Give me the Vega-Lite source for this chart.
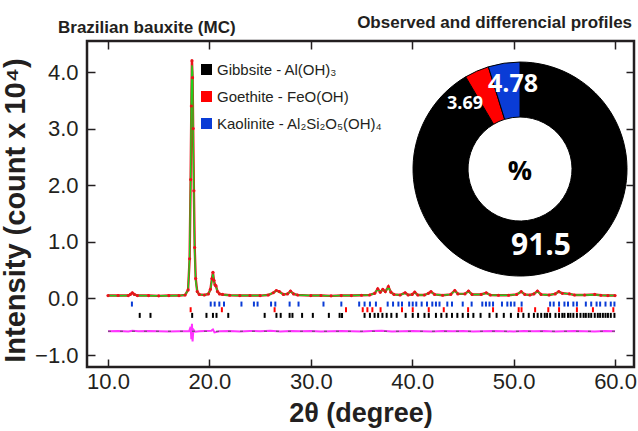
{
  "$schema": "https://vega.github.io/schema/vega-lite/v6.json",
  "width": 547,
  "height": 326,
  "autosize": {"type": "none"},
  "padding": {"left": 87, "top": 41, "right": 4, "bottom": 64},
  "background": "white",
  "config": {
    "view": {"stroke": "#231f20", "strokeWidth": 2.5},
    "axis": {"domain": false, "grid": false, "tickColor": "#231f20", "tickWidth": 1.5, "tickSize": 8, "offset": -8, "labelFont": "Liberation Sans", "labelFontSize": 22, "labelColor": "#231f20", "titleFont": "Liberation Sans", "titleFontWeight": "bold", "titleColor": "#231f20", "labelFlush": false, "labelOverlap": false}
  },
  "datasets": {
    "profile": [
      {"t": 10.0, "obs": 0.05, "calc": 0.05}, {"t": 11.0, "obs": 0.052, "calc": 0.048}, {"t": 12.0, "obs": 0.05, "calc": 0.05},
      {"t": 12.2, "obs": 0.07, "calc": 0.065}, {"t": 12.4, "obs": 0.1, "calc": 0.095}, {"t": 12.6, "obs": 0.07, "calc": 0.07},
      {"t": 12.9, "obs": 0.05, "calc": 0.05}, {"t": 14.0, "obs": 0.05, "calc": 0.048}, {"t": 15.0, "obs": 0.045, "calc": 0.046},
      {"t": 16.0, "obs": 0.05, "calc": 0.047}, {"t": 17.0, "obs": 0.05, "calc": 0.05}, {"t": 17.6, "obs": 0.06, "calc": 0.06},
      {"t": 17.9, "obs": 0.15, "calc": 0.15}, {"t": 18.05, "obs": 0.7, "calc": 0.75}, {"t": 18.15, "obs": 2.1, "calc": 2.2},
      {"t": 18.22, "obs": 3.4, "calc": 3.6}, {"t": 18.28, "obs": 4.2, "calc": 4.12}, {"t": 18.34, "obs": 3.9, "calc": 4.0},
      {"t": 18.4, "obs": 3.0, "calc": 2.9}, {"t": 18.47, "obs": 1.9, "calc": 1.8}, {"t": 18.55, "obs": 0.9, "calc": 0.8},
      {"t": 18.65, "obs": 0.35, "calc": 0.3}, {"t": 18.8, "obs": 0.12, "calc": 0.12}, {"t": 19.0, "obs": 0.07, "calc": 0.07},
      {"t": 19.5, "obs": 0.06, "calc": 0.06}, {"t": 19.9, "obs": 0.08, "calc": 0.08}, {"t": 20.1, "obs": 0.16, "calc": 0.15},
      {"t": 20.25, "obs": 0.35, "calc": 0.33}, {"t": 20.35, "obs": 0.46, "calc": 0.43}, {"t": 20.45, "obs": 0.32, "calc": 0.3},
      {"t": 20.55, "obs": 0.24, "calc": 0.22}, {"t": 20.65, "obs": 0.22, "calc": 0.21}, {"t": 20.8, "obs": 0.12, "calc": 0.12},
      {"t": 21.0, "obs": 0.08, "calc": 0.08}, {"t": 21.3, "obs": 0.07, "calc": 0.065}, {"t": 22.0, "obs": 0.055, "calc": 0.055},
      {"t": 23.0, "obs": 0.05, "calc": 0.05}, {"t": 24.0, "obs": 0.052, "calc": 0.05}, {"t": 25.0, "obs": 0.05, "calc": 0.05},
      {"t": 25.8, "obs": 0.06, "calc": 0.06}, {"t": 26.3, "obs": 0.1, "calc": 0.1}, {"t": 26.6, "obs": 0.14, "calc": 0.13},
      {"t": 26.9, "obs": 0.12, "calc": 0.11}, {"t": 27.3, "obs": 0.07, "calc": 0.07}, {"t": 27.7, "obs": 0.08, "calc": 0.08},
      {"t": 28.0, "obs": 0.13, "calc": 0.12}, {"t": 28.3, "obs": 0.08, "calc": 0.08}, {"t": 28.7, "obs": 0.06, "calc": 0.06},
      {"t": 30.0, "obs": 0.05, "calc": 0.05}, {"t": 31.0, "obs": 0.052, "calc": 0.05}, {"t": 32.0, "obs": 0.045, "calc": 0.045},
      {"t": 33.0, "obs": 0.05, "calc": 0.05}, {"t": 34.0, "obs": 0.05, "calc": 0.05}, {"t": 35.0, "obs": 0.055, "calc": 0.055},
      {"t": 35.8, "obs": 0.06, "calc": 0.06}, {"t": 36.3, "obs": 0.09, "calc": 0.09}, {"t": 36.6, "obs": 0.17, "calc": 0.16},
      {"t": 36.85, "obs": 0.11, "calc": 0.12}, {"t": 37.1, "obs": 0.16, "calc": 0.15}, {"t": 37.35, "obs": 0.12, "calc": 0.11},
      {"t": 37.65, "obs": 0.21, "calc": 0.2}, {"t": 37.9, "obs": 0.11, "calc": 0.11}, {"t": 38.2, "obs": 0.07, "calc": 0.07},
      {"t": 38.8, "obs": 0.06, "calc": 0.06}, {"t": 39.3, "obs": 0.1, "calc": 0.09}, {"t": 39.6, "obs": 0.06, "calc": 0.06},
      {"t": 40.0, "obs": 0.07, "calc": 0.07}, {"t": 40.25, "obs": 0.11, "calc": 0.1}, {"t": 40.55, "obs": 0.06, "calc": 0.06},
      {"t": 41.2, "obs": 0.06, "calc": 0.06}, {"t": 41.6, "obs": 0.09, "calc": 0.09}, {"t": 41.85, "obs": 0.12, "calc": 0.11},
      {"t": 42.2, "obs": 0.07, "calc": 0.07}, {"t": 43.0, "obs": 0.055, "calc": 0.055}, {"t": 43.8, "obs": 0.07, "calc": 0.07},
      {"t": 44.2, "obs": 0.14, "calc": 0.13}, {"t": 44.5, "obs": 0.08, "calc": 0.08}, {"t": 45.2, "obs": 0.08, "calc": 0.08},
      {"t": 45.55, "obs": 0.13, "calc": 0.12}, {"t": 45.9, "obs": 0.07, "calc": 0.07}, {"t": 46.8, "obs": 0.07, "calc": 0.07},
      {"t": 47.3, "obs": 0.1, "calc": 0.09}, {"t": 47.7, "obs": 0.06, "calc": 0.06}, {"t": 48.5, "obs": 0.055, "calc": 0.055},
      {"t": 49.5, "obs": 0.055, "calc": 0.055}, {"t": 50.3, "obs": 0.07, "calc": 0.07}, {"t": 50.75, "obs": 0.12, "calc": 0.12},
      {"t": 51.1, "obs": 0.07, "calc": 0.07}, {"t": 51.6, "obs": 0.06, "calc": 0.06}, {"t": 52.0, "obs": 0.08, "calc": 0.08},
      {"t": 52.35, "obs": 0.13, "calc": 0.12}, {"t": 52.7, "obs": 0.07, "calc": 0.07}, {"t": 53.5, "obs": 0.06, "calc": 0.06},
      {"t": 54.1, "obs": 0.08, "calc": 0.08}, {"t": 54.45, "obs": 0.12, "calc": 0.11}, {"t": 54.8, "obs": 0.09, "calc": 0.09},
      {"t": 55.5, "obs": 0.08, "calc": 0.08}, {"t": 56.0, "obs": 0.06, "calc": 0.06}, {"t": 57.0, "obs": 0.06, "calc": 0.06},
      {"t": 58.0, "obs": 0.07, "calc": 0.065}, {"t": 58.6, "obs": 0.055, "calc": 0.055}, {"t": 59.3, "obs": 0.05, "calc": 0.05},
      {"t": 60.0, "obs": 0.05, "calc": 0.05}
    ],
    "diff": [
      {"t": 10.0, "d": -0.58}, {"t": 11.0, "d": -0.575}, {"t": 12.0, "d": -0.585}, {"t": 12.4, "d": -0.57}, {"t": 13.0, "d": -0.58},
      {"t": 14.0, "d": -0.575}, {"t": 15.0, "d": -0.58}, {"t": 16.0, "d": -0.585}, {"t": 17.0, "d": -0.58}, {"t": 18.0, "d": -0.58},
      {"t": 18.15, "d": -0.5}, {"t": 18.22, "d": -0.72}, {"t": 18.28, "d": -0.45}, {"t": 18.34, "d": -0.76}, {"t": 18.42, "d": -0.55},
      {"t": 18.6, "d": -0.59}, {"t": 19.0, "d": -0.58}, {"t": 20.2, "d": -0.57}, {"t": 20.35, "d": -0.55}, {"t": 20.5, "d": -0.6},
      {"t": 21.0, "d": -0.58}, {"t": 22.0, "d": -0.575}, {"t": 23.0, "d": -0.585}, {"t": 24.0, "d": -0.575}, {"t": 25.0, "d": -0.58},
      {"t": 26.0, "d": -0.57}, {"t": 27.0, "d": -0.585}, {"t": 28.0, "d": -0.575}, {"t": 29.0, "d": -0.58}, {"t": 30.0, "d": -0.575},
      {"t": 31.0, "d": -0.585}, {"t": 32.0, "d": -0.58}, {"t": 33.0, "d": -0.575}, {"t": 34.0, "d": -0.58}, {"t": 35.0, "d": -0.585},
      {"t": 36.0, "d": -0.575}, {"t": 37.0, "d": -0.57}, {"t": 38.0, "d": -0.585}, {"t": 39.0, "d": -0.58}, {"t": 40.0, "d": -0.575},
      {"t": 41.0, "d": -0.58}, {"t": 42.0, "d": -0.585}, {"t": 43.0, "d": -0.575}, {"t": 44.0, "d": -0.58}, {"t": 45.0, "d": -0.575},
      {"t": 46.0, "d": -0.585}, {"t": 47.0, "d": -0.58}, {"t": 48.0, "d": -0.575}, {"t": 49.0, "d": -0.58}, {"t": 50.0, "d": -0.585},
      {"t": 51.0, "d": -0.575}, {"t": 52.0, "d": -0.58}, {"t": 53.0, "d": -0.575}, {"t": 54.0, "d": -0.585}, {"t": 55.0, "d": -0.58},
      {"t": 56.0, "d": -0.575}, {"t": 57.0, "d": -0.58}, {"t": 58.0, "d": -0.585}, {"t": 59.0, "d": -0.575}, {"t": 60.0, "d": -0.58}
    ],
    "bragg": [
      {"t": 13.13, "phase": "Gibbsite - Al(OH)₃"}, {"t": 14.19, "phase": "Gibbsite - Al(OH)₃"}, {"t": 18.3, "phase": "Gibbsite - Al(OH)₃"},
      {"t": 19.71, "phase": "Gibbsite - Al(OH)₃"}, {"t": 20.35, "phase": "Gibbsite - Al(OH)₃"}, {"t": 20.7, "phase": "Gibbsite - Al(OH)₃"},
      {"t": 21.86, "phase": "Gibbsite - Al(OH)₃"}, {"t": 25.45, "phase": "Gibbsite - Al(OH)₃"}, {"t": 26.61, "phase": "Gibbsite - Al(OH)₃"},
      {"t": 27.03, "phase": "Gibbsite - Al(OH)₃"}, {"t": 27.91, "phase": "Gibbsite - Al(OH)₃"}, {"t": 28.19, "phase": "Gibbsite - Al(OH)₃"},
      {"t": 29.14, "phase": "Gibbsite - Al(OH)₃"}, {"t": 30.2, "phase": "Gibbsite - Al(OH)₃"}, {"t": 31.78, "phase": "Gibbsite - Al(OH)₃"},
      {"t": 32.84, "phase": "Gibbsite - Al(OH)₃"}, {"t": 33.08, "phase": "Gibbsite - Al(OH)₃"}, {"t": 35.3, "phase": "Gibbsite - Al(OH)₃"},
      {"t": 35.83, "phase": "Gibbsite - Al(OH)₃"}, {"t": 36.29, "phase": "Gibbsite - Al(OH)₃"}, {"t": 36.64, "phase": "Gibbsite - Al(OH)₃"},
      {"t": 37.06, "phase": "Gibbsite - Al(OH)₃"}, {"t": 37.48, "phase": "Gibbsite - Al(OH)₃"}, {"t": 37.94, "phase": "Gibbsite - Al(OH)₃"},
      {"t": 38.47, "phase": "Gibbsite - Al(OH)₃"}, {"t": 39.35, "phase": "Gibbsite - Al(OH)₃"}, {"t": 40.05, "phase": "Gibbsite - Al(OH)₃"},
      {"t": 40.58, "phase": "Gibbsite - Al(OH)₃"}, {"t": 41.21, "phase": "Gibbsite - Al(OH)₃"}, {"t": 41.63, "phase": "Gibbsite - Al(OH)₃"},
      {"t": 42.34, "phase": "Gibbsite - Al(OH)₃"}, {"t": 42.87, "phase": "Gibbsite - Al(OH)₃"}, {"t": 43.39, "phase": "Gibbsite - Al(OH)₃"},
      {"t": 43.92, "phase": "Gibbsite - Al(OH)₃"}, {"t": 44.45, "phase": "Gibbsite - Al(OH)₃"}, {"t": 44.98, "phase": "Gibbsite - Al(OH)₃"},
      {"t": 45.51, "phase": "Gibbsite - Al(OH)₃"}, {"t": 46.03, "phase": "Gibbsite - Al(OH)₃"}, {"t": 46.74, "phase": "Gibbsite - Al(OH)₃"},
      {"t": 47.62, "phase": "Gibbsite - Al(OH)₃"}, {"t": 48.32, "phase": "Gibbsite - Al(OH)₃"}, {"t": 49.03, "phase": "Gibbsite - Al(OH)₃"},
      {"t": 49.73, "phase": "Gibbsite - Al(OH)₃"}, {"t": 50.44, "phase": "Gibbsite - Al(OH)₃"}, {"t": 50.96, "phase": "Gibbsite - Al(OH)₃"},
      {"t": 51.49, "phase": "Gibbsite - Al(OH)₃"}, {"t": 52.0, "phase": "Gibbsite - Al(OH)₃"}, {"t": 52.37, "phase": "Gibbsite - Al(OH)₃"},
      {"t": 52.72, "phase": "Gibbsite - Al(OH)₃"}, {"t": 53.07, "phase": "Gibbsite - Al(OH)₃"}, {"t": 53.3, "phase": "Gibbsite - Al(OH)₃"},
      {"t": 53.6, "phase": "Gibbsite - Al(OH)₃"}, {"t": 54.13, "phase": "Gibbsite - Al(OH)₃"}, {"t": 54.48, "phase": "Gibbsite - Al(OH)₃"},
      {"t": 54.8, "phase": "Gibbsite - Al(OH)₃"}, {"t": 55.01, "phase": "Gibbsite - Al(OH)₃"}, {"t": 55.36, "phase": "Gibbsite - Al(OH)₃"},
      {"t": 55.6, "phase": "Gibbsite - Al(OH)₃"}, {"t": 55.89, "phase": "Gibbsite - Al(OH)₃"}, {"t": 56.24, "phase": "Gibbsite - Al(OH)₃"},
      {"t": 56.59, "phase": "Gibbsite - Al(OH)₃"}, {"t": 56.9, "phase": "Gibbsite - Al(OH)₃"}, {"t": 57.12, "phase": "Gibbsite - Al(OH)₃"},
      {"t": 57.4, "phase": "Gibbsite - Al(OH)₃"}, {"t": 57.65, "phase": "Gibbsite - Al(OH)₃"}, {"t": 58.0, "phase": "Gibbsite - Al(OH)₃"},
      {"t": 58.3, "phase": "Gibbsite - Al(OH)₃"}, {"t": 58.53, "phase": "Gibbsite - Al(OH)₃"}, {"t": 58.8, "phase": "Gibbsite - Al(OH)₃"},
      {"t": 59.06, "phase": "Gibbsite - Al(OH)₃"}, {"t": 59.3, "phase": "Gibbsite - Al(OH)₃"}, {"t": 59.58, "phase": "Gibbsite - Al(OH)₃"},
      {"t": 59.94, "phase": "Gibbsite - Al(OH)₃"},
      {"t": 18.15, "phase": "Goethite - FeO(OH)"}, {"t": 21.23, "phase": "Goethite - FeO(OH)"}, {"t": 26.43, "phase": "Goethite - FeO(OH)"},
      {"t": 33.47, "phase": "Goethite - FeO(OH)"}, {"t": 35.12, "phase": "Goethite - FeO(OH)"}, {"t": 35.58, "phase": "Goethite - FeO(OH)"},
      {"t": 36.07, "phase": "Goethite - FeO(OH)"}, {"t": 36.88, "phase": "Goethite - FeO(OH)"}, {"t": 38.99, "phase": "Goethite - FeO(OH)"},
      {"t": 40.05, "phase": "Goethite - FeO(OH)"}, {"t": 41.63, "phase": "Goethite - FeO(OH)"}, {"t": 43.11, "phase": "Goethite - FeO(OH)"},
      {"t": 45.51, "phase": "Goethite - FeO(OH)"}, {"t": 47.97, "phase": "Goethite - FeO(OH)"}, {"t": 50.5, "phase": "Goethite - FeO(OH)"},
      {"t": 50.78, "phase": "Goethite - FeO(OH)"}, {"t": 52.12, "phase": "Goethite - FeO(OH)"}, {"t": 53.42, "phase": "Goethite - FeO(OH)"},
      {"t": 54.48, "phase": "Goethite - FeO(OH)"}, {"t": 56.24, "phase": "Goethite - FeO(OH)"}, {"t": 57.82, "phase": "Goethite - FeO(OH)"},
      {"t": 59.83, "phase": "Goethite - FeO(OH)"},
      {"t": 12.36, "phase": "Kaolinite - Al₂Si₂O₅(OH)₄"}, {"t": 20.13, "phase": "Kaolinite - Al₂Si₂O₅(OH)₄"}, {"t": 20.52, "phase": "Kaolinite - Al₂Si₂O₅(OH)₄"},
      {"t": 20.98, "phase": "Kaolinite - Al₂Si₂O₅(OH)₄"}, {"t": 21.44, "phase": "Kaolinite - Al₂Si₂O₅(OH)₄"}, {"t": 23.16, "phase": "Kaolinite - Al₂Si₂O₅(OH)₄"},
      {"t": 24.39, "phase": "Kaolinite - Al₂Si₂O₅(OH)₄"}, {"t": 24.75, "phase": "Kaolinite - Al₂Si₂O₅(OH)₄"}, {"t": 26.08, "phase": "Kaolinite - Al₂Si₂O₅(OH)₄"},
      {"t": 26.5, "phase": "Kaolinite - Al₂Si₂O₅(OH)₄"}, {"t": 27.91, "phase": "Kaolinite - Al₂Si₂O₅(OH)₄"}, {"t": 28.79, "phase": "Kaolinite - Al₂Si₂O₅(OH)₄"},
      {"t": 31.25, "phase": "Kaolinite - Al₂Si₂O₅(OH)₄"}, {"t": 33.01, "phase": "Kaolinite - Al₂Si₂O₅(OH)₄"}, {"t": 34.77, "phase": "Kaolinite - Al₂Si₂O₅(OH)₄"},
      {"t": 35.3, "phase": "Kaolinite - Al₂Si₂O₅(OH)₄"}, {"t": 35.83, "phase": "Kaolinite - Al₂Si₂O₅(OH)₄"}, {"t": 36.42, "phase": "Kaolinite - Al₂Si₂O₅(OH)₄"},
      {"t": 37.58, "phase": "Kaolinite - Al₂Si₂O₅(OH)₄"}, {"t": 38.11, "phase": "Kaolinite - Al₂Si₂O₅(OH)₄"}, {"t": 38.64, "phase": "Kaolinite - Al₂Si₂O₅(OH)₄"},
      {"t": 38.99, "phase": "Kaolinite - Al₂Si₂O₅(OH)₄"}, {"t": 39.7, "phase": "Kaolinite - Al₂Si₂O₅(OH)₄"}, {"t": 40.05, "phase": "Kaolinite - Al₂Si₂O₅(OH)₄"},
      {"t": 40.4, "phase": "Kaolinite - Al₂Si₂O₅(OH)₄"}, {"t": 40.93, "phase": "Kaolinite - Al₂Si₂O₅(OH)₄"}, {"t": 41.46, "phase": "Kaolinite - Al₂Si₂O₅(OH)₄"},
      {"t": 41.98, "phase": "Kaolinite - Al₂Si₂O₅(OH)₄"}, {"t": 42.34, "phase": "Kaolinite - Al₂Si₂O₅(OH)₄"}, {"t": 42.69, "phase": "Kaolinite - Al₂Si₂O₅(OH)₄"},
      {"t": 43.46, "phase": "Kaolinite - Al₂Si₂O₅(OH)₄"}, {"t": 43.92, "phase": "Kaolinite - Al₂Si₂O₅(OH)₄"}, {"t": 44.98, "phase": "Kaolinite - Al₂Si₂O₅(OH)₄"},
      {"t": 45.86, "phase": "Kaolinite - Al₂Si₂O₅(OH)₄"}, {"t": 46.91, "phase": "Kaolinite - Al₂Si₂O₅(OH)₄"}, {"t": 47.27, "phase": "Kaolinite - Al₂Si₂O₅(OH)₄"},
      {"t": 47.62, "phase": "Kaolinite - Al₂Si₂O₅(OH)₄"}, {"t": 47.97, "phase": "Kaolinite - Al₂Si₂O₅(OH)₄"}, {"t": 48.85, "phase": "Kaolinite - Al₂Si₂O₅(OH)₄"},
      {"t": 49.38, "phase": "Kaolinite - Al₂Si₂O₅(OH)₄"}, {"t": 49.73, "phase": "Kaolinite - Al₂Si₂O₅(OH)₄"}, {"t": 50.08, "phase": "Kaolinite - Al₂Si₂O₅(OH)₄"},
      {"t": 50.79, "phase": "Kaolinite - Al₂Si₂O₅(OH)₄"}, {"t": 53.6, "phase": "Kaolinite - Al₂Si₂O₅(OH)₄"}, {"t": 53.95, "phase": "Kaolinite - Al₂Si₂O₅(OH)₄"},
      {"t": 54.48, "phase": "Kaolinite - Al₂Si₂O₅(OH)₄"}, {"t": 55.01, "phase": "Kaolinite - Al₂Si₂O₅(OH)₄"}, {"t": 55.36, "phase": "Kaolinite - Al₂Si₂O₅(OH)₄"},
      {"t": 55.89, "phase": "Kaolinite - Al₂Si₂O₅(OH)₄"}, {"t": 56.24, "phase": "Kaolinite - Al₂Si₂O₅(OH)₄"}, {"t": 57.12, "phase": "Kaolinite - Al₂Si₂O₅(OH)₄"},
      {"t": 57.65, "phase": "Kaolinite - Al₂Si₂O₅(OH)₄"}, {"t": 58.18, "phase": "Kaolinite - Al₂Si₂O₅(OH)₄"}, {"t": 58.53, "phase": "Kaolinite - Al₂Si₂O₅(OH)₄"},
      {"t": 59.06, "phase": "Kaolinite - Al₂Si₂O₅(OH)₄"}, {"t": 59.58, "phase": "Kaolinite - Al₂Si₂O₅(OH)₄"}, {"t": 59.94, "phase": "Kaolinite - Al₂Si₂O₅(OH)₄"}
    ],
    "phases": [
      {"phase": "Gibbsite - Al(OH)₃", "pct": 91.5, "ord": 1},
      {"phase": "Goethite - FeO(OH)", "pct": 3.69, "ord": 2},
      {"phase": "Kaolinite - Al₂Si₂O₅(OH)₄", "pct": 4.78, "ord": 3}
    ],
    "one": [{}]
  },
  "resolve": {"axis": {"x": "independent", "y": "independent"}},
  "layer": [
    {
      "data": {"name": "diff"},
      "mark": {"type": "line", "color": "#ff33ff", "strokeWidth": 2},
      "encoding": {
        "x": {"field": "t", "type": "quantitative", "scale": {"domain": [7.93, 61.87], "nice": false, "zero": false},
              "axis": {"values": [10, 20, 30, 40, 50, 60], "format": ".1f", "title": "2θ (degree)", "labelPadding": 4, "titleFontSize": 27, "titlePadding": 8}},
        "y": {"field": "d", "type": "quantitative", "scale": {"domain": [-1.212, 4.548], "nice": false, "zero": false},
              "axis": {"values": [-1, 0, 1, 2, 3, 4], "format": ".1f", "title": "Intensity  (count x 10⁴)", "labelPadding": 9, "titleFontSize": 29, "titlePadding": 4, "titleY": 169}}
      }
    },
    {
      "data": {"name": "one"},
      "mark": {"type": "rule", "color": "#555555", "strokeWidth": 1, "strokeDash": [3, 9]},
      "encoding": {
        "x": {"datum": 10, "type": "quantitative", "axis": null},
        "x2": {"datum": 60},
        "y": {"datum": -0.58, "type": "quantitative", "axis": null}
      }
    },
    {
      "data": {"name": "bragg"},
      "transform": [{"filter": "datum.phase == 'Kaolinite - Al₂Si₂O₅(OH)₄'"}],
      "mark": {"type": "tick", "orient": "vertical", "size": 5, "thickness": 2, "opacity": 1},
      "encoding": {
        "x": {"field": "t", "type": "quantitative", "axis": null},
        "y": {"datum": -0.1, "type": "quantitative", "axis": null},
        "color": {"field": "phase", "type": "nominal"}
      }
    },
    {
      "data": {"name": "bragg"},
      "transform": [{"filter": "datum.phase == 'Goethite - FeO(OH)'"}],
      "mark": {"type": "tick", "orient": "vertical", "size": 5, "thickness": 2, "opacity": 1},
      "encoding": {
        "x": {"field": "t", "type": "quantitative", "axis": null},
        "y": {"datum": -0.2, "type": "quantitative", "axis": null},
        "color": {"field": "phase", "type": "nominal"}
      }
    },
    {
      "data": {"name": "bragg"},
      "transform": [{"filter": "datum.phase == 'Gibbsite - Al(OH)₃'"}],
      "mark": {"type": "tick", "orient": "vertical", "size": 5, "thickness": 2, "opacity": 1},
      "encoding": {
        "x": {"field": "t", "type": "quantitative", "axis": null},
        "y": {"datum": -0.3, "type": "quantitative", "axis": null},
        "color": {"field": "phase", "type": "nominal"}
      }
    },
    {
      "data": {"name": "profile"},
      "mark": {"type": "line", "color": "#e8141b", "strokeWidth": 2.4},
      "encoding": {
        "x": {"field": "t", "type": "quantitative", "axis": {"orient": "top", "values": [10, 20, 30, 40, 50, 60], "labels": false, "title": null}},
        "y": {"field": "obs", "type": "quantitative", "axis": {"orient": "right", "values": [-1, 0, 1, 2, 3, 4], "labels": false, "title": null}}
      }
    },
    {
      "data": {"name": "profile"},
      "mark": {"type": "line", "color": "#1ecf1e", "strokeWidth": 1.4},
      "encoding": {
        "x": {"field": "t", "type": "quantitative", "axis": null},
        "y": {"field": "calc", "type": "quantitative", "axis": null}
      }
    },
    {
      "data": {"name": "profile"},
      "mark": {"type": "circle", "color": "#e8141b", "size": 10, "opacity": 1},
      "encoding": {
        "x": {"field": "t", "type": "quantitative", "axis": null},
        "y": {"field": "obs", "type": "quantitative", "axis": null}
      }
    },
    {
      "data": {"name": "phases"},
      "mark": {"type": "arc", "innerRadius": 52, "outerRadius": 107, "stroke": "#000000", "strokeWidth": 1, "opacity": 1},
      "encoding": {
        "x": {"datum": 50.63, "type": "quantitative", "axis": null},
        "y": {"datum": 2.286, "type": "quantitative", "axis": null},
        "theta": {"field": "pct", "type": "quantitative", "stack": true},
        "order": {"field": "ord", "type": "quantitative"},
        "color": {"field": "phase", "type": "nominal",
                  "scale": {"domain": ["Gibbsite - Al(OH)₃", "Goethite - FeO(OH)", "Kaolinite - Al₂Si₂O₅(OH)₄"], "range": ["#000000", "#ff0000", "#0a3cd6"]},
                  "legend": {"orient": "none", "legendX": 112, "legendY": 21, "title": null, "symbolType": "square", "symbolSize": 121, "symbolStrokeWidth": 0, "symbolOpacity": 1, "labelFont": "Liberation Sans", "labelFontSize": 15, "labelColor": "#231f20", "labelLimit": 400, "rowPadding": 11, "labelOffset": 3, "padding": 0}}
      }
    },
    {
      "data": {"name": "one"},
      "mark": {"type": "text", "text": "4.78", "font": "Open Sans", "fontWeight": "bold", "fontSize": 25, "color": "white", "align": "center", "baseline": "middle"},
      "encoding": {"x": {"datum": 49.94, "type": "quantitative", "axis": null}, "y": {"datum": 3.79, "type": "quantitative", "axis": null}}
    },
    {
      "data": {"name": "one"},
      "mark": {"type": "text", "text": "3.69", "font": "Open Sans", "fontWeight": "bold", "fontSize": 18, "color": "white", "align": "center", "baseline": "middle"},
      "encoding": {"x": {"datum": 45.21, "type": "quantitative", "axis": null}, "y": {"datum": 3.44, "type": "quantitative", "axis": null}}
    },
    {
      "data": {"name": "one"},
      "mark": {"type": "text", "text": "91.5", "font": "Open Sans", "fontWeight": "bold", "fontSize": 30, "color": "white", "align": "center", "baseline": "middle"},
      "encoding": {"x": {"datum": 52.7, "type": "quantitative", "axis": null}, "y": {"datum": 0.93, "type": "quantitative", "axis": null}}
    },
    {
      "data": {"name": "one"},
      "mark": {"type": "text", "text": "%", "font": "Open Sans", "fontWeight": "bold", "fontSize": 27, "color": "#000000", "align": "center", "baseline": "middle"},
      "encoding": {"x": {"datum": 50.63, "type": "quantitative", "axis": null}, "y": {"datum": 2.24, "type": "quantitative", "axis": null}}
    },
    {
      "data": {"name": "one"},
      "mark": {"type": "text", "text": "Observed and differencial profiles", "font": "Liberation Sans", "fontWeight": "bold", "fontSize": 17, "color": "#231f20", "align": "right", "baseline": "alphabetic"},
      "encoding": {"x": {"datum": 61.68, "type": "quantitative", "axis": null}, "y": {"datum": 4.777, "type": "quantitative", "axis": null}}
    },
    {
      "data": {"name": "one"},
      "mark": {"type": "text", "text": "Brazilian bauxite (MC)", "font": "Liberation Sans", "fontWeight": "bold", "fontSize": 17, "color": "#231f20", "align": "left", "baseline": "alphabetic"},
      "encoding": {"x": {"datum": 5.07, "type": "quantitative", "axis": null}, "y": {"datum": 4.689, "type": "quantitative", "axis": null}}
    }
  ]
}
